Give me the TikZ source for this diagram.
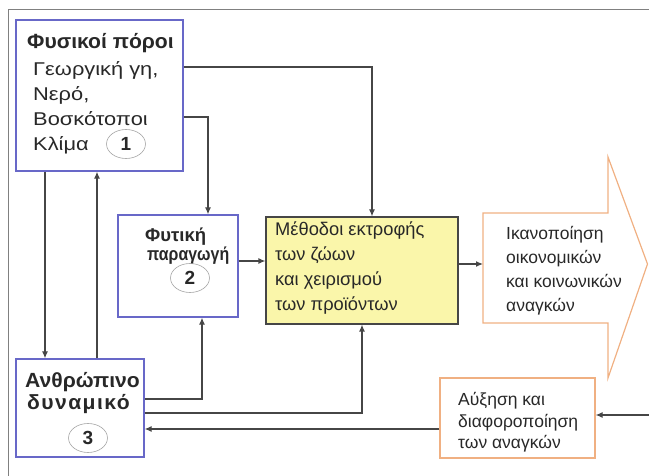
\documentclass[tikz,border=0pt]{standalone}
\usepackage{fontspec}
\setmainfont{Liberation Sans}
\newfontfamily\widefont[FakeStretch=1.18]{Liberation Sans}
\newfontfamily\headfont[FakeStretch=1.03]{Liberation Sans}
\newfontfamily\narrowfont[FakeStretch=0.86]{Liberation Sans}
\usetikzlibrary{arrows.meta}
\usetikzlibrary{shapes.geometric}
\definecolor{boxblue}{RGB}{104,104,200}
\definecolor{needorange}{RGB}{240,176,130}
\definecolor{methyellow}{RGB}{250,246,170}
\definecolor{linegray}{RGB}{70,70,70}
\definecolor{txtgray}{RGB}{40,40,40}

\begin{document}
\begin{tikzpicture}[x=1pt, y=-1pt, >={Latex[length=7pt,width=6pt]},
    BlueBox/.style={rectangle, draw=boxblue, line width=1.3pt, fill=white, inner sep=0pt},
    OrangeBox/.style={rectangle, draw=needorange, line width=1.2pt, fill=white, inner sep=0pt},
    Num/.style={ellipse, draw=gray!70, line width=0.6pt, minimum width=39pt, minimum height=29pt, inner sep=0pt, text=txtgray, font=\fontsize{19}{19}\selectfont\bfseries},
    Head/.style={anchor=base west, inner sep=0pt, text=txtgray, font=\headfont\fontsize{20.5}{24}\selectfont\bfseries},
    Txt/.style={anchor=base west, inner sep=0pt, text=txtgray, font=\widefont\fontsize{18.5}{24}\selectfont},
    Small/.style={anchor=base west, inner sep=0pt, text=txtgray, font=\fontsize{17.5}{21}\selectfont},
    Link/.style={->, draw=linegray, line width=1.2pt}]
        \useasboundingbox (0,0) rectangle (649,476);
        % \draw[help lines, gray] (0,0) grid[step=50] (649,476);
        \draw[gray, line width=1pt] (8,476) -- (8,10) -- (649,10);

        \node[BlueBox, minimum width=167pt, minimum height=151pt] (phys) at (99.5,95.5){};
        \node[BlueBox, minimum width=120pt, minimum height=102pt] (plant) at (178,266){};
        \node[BlueBox, minimum width=128pt, minimum height=98pt] (human) at (80,408){};
        \node[rectangle, draw=linegray, fill=methyellow, line width=1.2pt, inner sep=0pt, minimum width=192pt, minimum height=107pt] (meth) at (362,270.5){};
        \node[OrangeBox, minimum width=155pt, minimum height=80pt] (growth) at (517.5,418){};
        \draw[needorange, line width=1.2pt] (483,213) -- (608,213) -- (608,157) -- (647.5,264) -- (608,378) -- (608,323) -- (483,323) -- cycle;
        \coordinate (needin) at (483,264);
        \coordinate (rightend) at (649,415);

        \node[Head] (physA) at (27,49){Φυσικοί πόροι};
        \node[Txt] (physB) at (33,76){Γεωργική γη,};
        \node[Txt] (physC) at (33,101){Νερό,};
        \node[Txt] (physD) at (33,126){Βοσκότοποι};
        \node[Txt] (physE) at (33,151){Κλίμα};
        \node[Num] (one) at (126,144){1};

        \node[Head, font=\fontsize{18.5}{20}\selectfont\bfseries] (plantA) at (145,242){Φυτική};
        \node[Head, font=\narrowfont\fontsize{18.5}{20}\selectfont\bfseries] (plantB) at (147,261){παραγωγή};
        \node[Num] (two) at (190,278){2};

        \node[Head] (humanA) at (25,387){Ανθρώπινο};
        \node[Head] (humanB) at (27,409){\addfontfeature{LetterSpace=7}δυναμικό};
        \node[Num] (three) at (88,438){3};

        \node[Small, font=\fontsize{18.3}{21}\selectfont] (methA) at (275,236){Μέθοδοι εκτροφής};
        \node[Small, font=\fontsize{18.3}{21}\selectfont] (methB) at (275,261){των ζώων};
        \node[Small, font=\fontsize{18.3}{21}\selectfont] (methC) at (275,286){και χειρισμού};
        \node[Small, font=\fontsize{18.3}{21}\selectfont] (methD) at (275,311){των προϊόντων};

        \node[Small] (needA) at (506,240){Ικανοποίηση};
        \node[Small] (needB) at (506,264){οικονομικών};
        \node[Small] (needC) at (506,288){και κοινωνικών};
        \node[Small] (needD) at (506,312){αναγκών};

        \node[Small] (growthA) at (458,406){Αύξηση και};
        \node[Small] (growthB) at (458,427){διαφοροποίηση};
        \node[Small] (growthC) at (458,448){των αναγκών};

        \draw[Link] (phys.east |- 0,67) -| (meth.north -| 372,0);
        \draw[Link] (phys.east |- 0,117) -| (plant.north -| 208,0);
        \draw[Link] (phys.south -| 45,0) -- (human.north -| 45,0);
        \draw[Link] (human.north -| 97,0) -- (phys.south -| 97,0);
        \draw[Link] (plant.east |- 0,261) -- (meth.west |- 0,261);
        \draw[Link] (human.east |- 0,399) -| (plant.south -| 202,0);
        \draw[Link] (human.east |- 0,413) -| (meth.south -| 362,0);
        \draw[Link] (meth.east |- needin) -- (needin);
        \draw[Link] (rightend) -- (growth.east |- rightend);
        \draw[Link] (growth.west |- 0,429) -- (human.east |- 0,429);

\end{tikzpicture}
\end{document}
